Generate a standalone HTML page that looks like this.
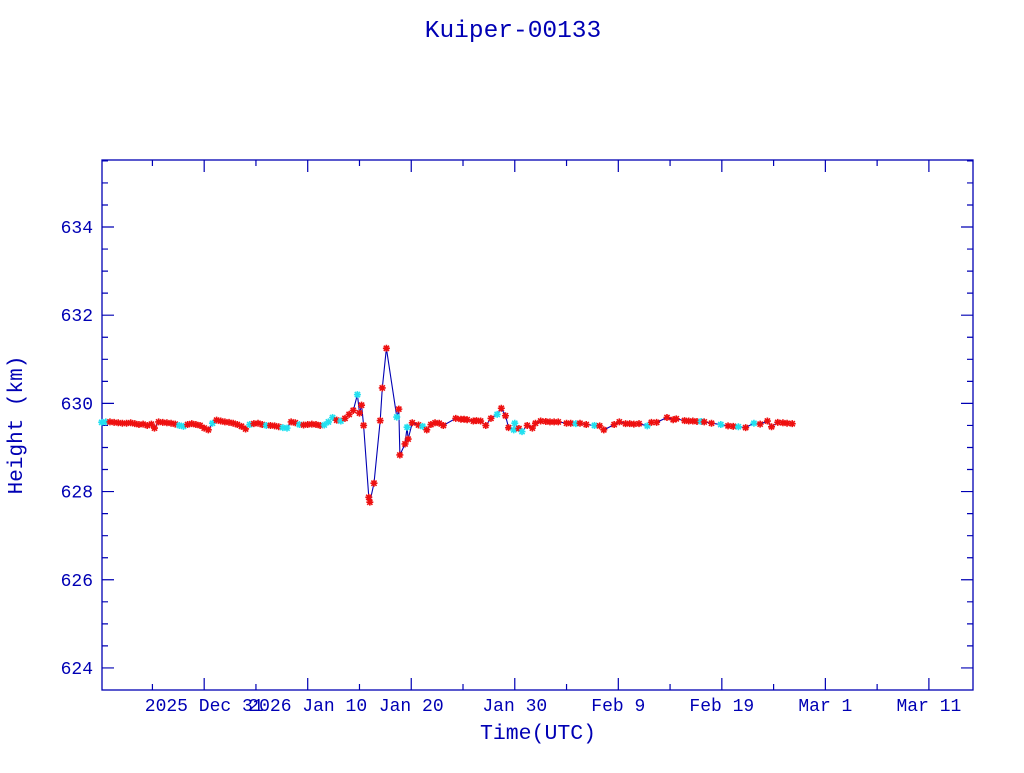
<!DOCTYPE html>
<html><head><meta charset="utf-8"><style>
body{margin:0;background:#fff;width:1024px;height:768px;overflow:hidden}
svg text{font-family:"Liberation Mono",monospace;fill:#0000b4}
</style></head><body>
<svg id="chart" width="1024" height="768" xmlns="http://www.w3.org/2000/svg">
<text x="513" y="37" font-size="24.5" text-anchor="middle">Kuiper-00133</text>
<text transform="translate(22,425) rotate(-90)" font-size="21" text-anchor="middle">Height (km)</text>
<text x="538" y="739" font-size="21.5" text-anchor="middle">Time(UTC)</text>
<rect x="102" y="160" width="871" height="530" fill="none" stroke="#0000b4" stroke-width="1.3"/>
<g id="axes"></g><g id="series"></g>
</svg>
<script>
const xTickDays=[0,10,20,30,40,50,60,70];
const xTickLabels=["2025 Dec 31","2026 Jan 10","Jan 20","Jan 30","Feb  9","Feb 19","Mar  1","Mar 11"];
const yTicks=[624,626,628,630,632,634];
const days=[-9.9,-9.5,-9.1,-8.7,-8.3,-7.9,-7.5,-7.1,-6.7,-6.3,-5.9,-5.5,-5.1,-4.8,-4.4,-4.0,-3.6,-3.2,-2.8,-2.4,-2.0,-1.6,-1.2,-0.8,-0.4,0.0,0.4,0.8,1.2,1.6,2.0,2.4,2.8,3.2,3.6,4.0,4.4,4.8,5.2,5.6,6.0,6.4,6.8,7.2,7.6,8.0,8.4,8.8,9.2,9.6,10.0,10.4,10.8,11.2,11.6,12.0,12.4,12.8,13.2,13.6,14.0,14.4,14.8,15.0,15.2,15.4,15.9,16.0,16.4,17.0,17.2,17.6,18.6,18.8,18.9,19.4,19.6,19.7,20.1,20.7,21.1,21.5,21.9,22.3,22.7,23.1,24.3,24.8,25.1,25.4,26.0,26.3,26.7,27.2,27.7,28.3,28.7,29.1,29.4,29.9,30.0,30.4,30.7,31.2,31.7,32.0,32.5,33.0,33.4,33.8,34.2,35.0,35.4,35.9,36.3,36.9,37.7,38.2,38.6,39.6,40.1,40.7,41.1,41.5,42.0,42.8,43.2,43.7,44.7,45.3,45.6,46.4,46.8,47.2,47.6,48.0,48.3,49.0,49.9,50.6,51.1,51.6,52.3,53.1,53.7,54.4,54.8,55.4,55.9,56.3,56.8];
const heights=[629.57,629.58,629.58,629.57,629.56,629.55,629.55,629.56,629.54,629.52,629.53,629.50,629.53,629.44,629.58,629.57,629.56,629.55,629.53,629.50,629.48,629.52,629.54,629.52,629.50,629.44,629.40,629.55,629.62,629.60,629.58,629.57,629.55,629.52,629.48,629.42,629.52,629.54,629.55,629.52,629.50,629.50,629.49,629.47,629.45,629.44,629.58,629.56,629.52,629.51,629.52,629.53,629.52,629.50,629.51,629.58,629.68,629.62,629.60,629.66,629.75,629.84,630.20,629.78,629.96,629.50,627.87,627.76,628.19,629.61,630.35,631.25,629.69,629.87,628.83,629.08,629.46,629.19,629.56,629.51,629.48,629.40,629.52,629.56,629.55,629.50,629.66,629.64,629.64,629.63,629.60,629.61,629.60,629.50,629.66,629.75,629.89,629.72,629.45,629.40,629.55,629.43,629.36,629.50,629.44,629.55,629.60,629.59,629.58,629.58,629.58,629.55,629.55,629.54,629.55,629.52,629.50,629.49,629.40,629.52,629.58,629.54,629.54,629.53,629.54,629.49,629.57,629.57,629.68,629.63,629.65,629.61,629.60,629.60,629.59,629.59,629.58,629.55,629.52,629.49,629.48,629.47,629.45,629.55,629.53,629.60,629.47,629.57,629.56,629.55,629.54];
const colors="ccrrrrrrrrrrrrrrrrrccrrrrrrcrrrrrrrrcrrrcrrrccrrcrrrrrcccrcrrrcrrrrrrrrrcrrrcrrrcrrrrrrrrrrrrrrcrrrccrcrrrrrrrrrrcrrcrrrrrrrrcrrrrrrrrrcrrcrrcrcrrrrr";
const X0=-9.87,X1=74.26,Y0=623.5,Y1=635.52,PL=102,PR=973,PT=160,PB=690;
function sx(d){return PL+(d-X0)/(X1-X0)*(PR-PL);}
function sy(h){return PB-(h-Y0)/(Y1-Y0)*(PB-PT);}
const NS="http://www.w3.org/2000/svg";
function mk(tag,attrs,parent){const e=document.createElementNS(NS,tag);for(const k in attrs)e.setAttribute(k,attrs[k]);parent.appendChild(e);return e;}
const ax=document.getElementById('axes');
let tp="";
for(let d=-5;d<=74;d+=5){const x=sx(d);const L=(d%10===0)?12:6;tp+=`M${x} ${PB}v${-L}M${x} ${PT}v${L}`;}
for(let v=624;v<=635.5;v+=0.5){const y=sy(v);const L=(v%2===0)?12:6;tp+=`M${PL} ${y}h${L}M${PR} ${y}h${-L}`;}
const tk=mk('path',{d:tp,stroke:'#0000b4','stroke-width':1.2,fill:'none'},ax);


xTickDays.forEach((d,i)=>{const t=mk('text',{x:sx(d),y:711,'font-size':18,'text-anchor':'middle','xml:space':'preserve'},ax);t.textContent=xTickLabels[i];

});
yTicks.forEach(v=>{const t=mk('text',{x:93,y:sy(v)+6,'font-size':18,'text-anchor':'end'},ax);t.textContent=v;

});
const sg=document.getElementById('series');
const pts=days.map((d,i)=>sx(d).toFixed(1)+','+sy(heights[i]).toFixed(1)).join(' ');
const ln=mk('polyline',{points:pts,fill:'none',stroke:'#0000b4','stroke-width':1.1},sg);


days.forEach((d,i)=>{const x=sx(d),y=sy(heights[i]);const c=colors[i]==='c'?'#22e0f0':'#ee1010';
const m=mk('path',{d:`M${x-3.5} ${y}h7M${x} ${y-3.5}v7M${x-2.6} ${y-2.6}l5.2 5.2M${x-2.6} ${y+2.6}l5.2 -5.2`,stroke:c,'stroke-width':1.6},sg);

});
</script>
</body></html>
